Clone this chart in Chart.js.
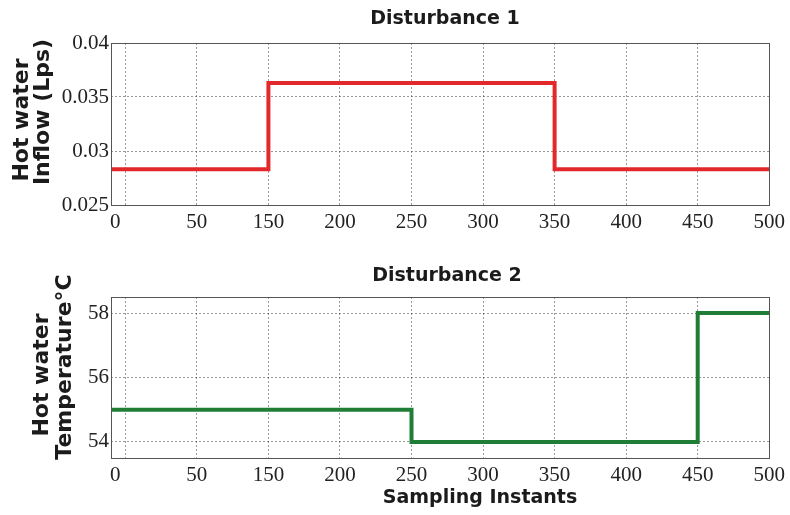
<!DOCTYPE html>
<html>
<head>
<meta charset="utf-8">
<script src="https://cdn.jsdelivr.net/npm/chart.js@4.4.1/dist/chart.umd.min.js"></script>
<style>
body { margin: 0; background: #fff; }
canvas { display: block; }
</style>
</head>
<body>
<canvas id="topChart" width="790" height="250"></canvas>
<canvas id="bottomChart" width="790" height="265"></canvas>
<script>
// sampling instant axis (labels as printed on the original figure)
const xMin = 40, xMax = 500;
const xTickValues = [43, 50, 100, 150, 200, 250, 300, 350, 400, 450, 500];
const xTickLabels = ['0', '', '50', '150', '200', '250', '300', '350', '400', '450', '500'];

// disturbance 1 - hot water inflow, step points
const d1Instants = [40, 150, 350, 500];
const d1Inflow = [0.0283, 0.0363, 0.0283, 0.0283];
const d1Ticks = [0.025, 0.03, 0.035, 0.04];

// disturbance 2 - hot water temperature, step points
const d2Instants = [40, 250, 450, 500];
const d2Temp = [55, 54, 58, 58];
const d2Ticks = [54, 56, 58];

const gridColor = 'rgba(70,70,70,0.55)';
const tickFont = { family: '"Liberation Serif", serif', size: 21 };
const labelFont = 'bold 22px "DejaVu Sans", sans-serif';
const titleFont = 'bold 19px "DejaVu Sans", sans-serif';

// frame around plot area + titles placed like the original figure
const frameText = {
    id: 'frameText',
    afterDraw(chart, args, opts) {
        const { ctx, chartArea: a } = chart;
        ctx.save();
        ctx.strokeStyle = '#555';
        ctx.lineWidth = 1;
        ctx.strokeRect(Math.round(a.left) + 0.5, Math.round(a.top) + 0.5,
            Math.round(a.right - a.left), Math.round(a.bottom - a.top));
        ctx.fillStyle = '#1b1b1b';
        ctx.textAlign = 'center';
        ctx.textBaseline = 'middle';
        (opts.items || []).forEach(t => {
            ctx.save();
            ctx.font = t.font;
            ctx.translate(t.x, t.y);
            ctx.rotate(t.rot || 0);
            ctx.fillText(t.text, 0, 0);
            ctx.restore();
        });
        ctx.restore();
    }
};

function xScale(height) {
    return {
        type: 'linear',
        min: xMin,
        max: xMax,
        afterBuildTicks: s => { s.ticks = xTickValues.map(v => ({ value: v })); },
        afterFit: s => { s.height = height; },
        ticks: {
            autoSkip: false,
            maxRotation: 0,
            padding: 5,
            color: '#222',
            font: tickFont,
            callback: (v, i) => xTickLabels[i]
        },
        // first tick only carries the "0" label, no grid line
        grid: { color: c => c.index === 0 ? 'rgba(0,0,0,0)' : gridColor, drawTicks: false },
        border: { display: false, dash: [2, 2] }
    };
}

function yScale(min, max, values) {
    return {
        min: min,
        max: max,
        afterBuildTicks: s => { s.ticks = values.map(v => ({ value: v })); },
        afterFit: s => { s.width = 111; },
        ticks: {
            padding: 2,
            color: '#222',
            font: tickFont,
            callback: v => String(+v.toFixed(4))
        },
        grid: { color: gridColor, drawTicks: false },
        border: { display: false, dash: [2, 2] }
    };
}

function toPoints(xs, ys) {
    return xs.map((x, i) => ({ x: x, y: ys[i] }));
}

new Chart(document.getElementById('topChart'), {
    type: 'line',
    data: {
        datasets: [{
            data: toPoints(d1Instants, d1Inflow),
            borderColor: '#e3282c',
            borderWidth: 4,
            pointRadius: 0,
            stepped: 'before',
            fill: false
        }]
    },
    options: {
        responsive: false,
        animation: false,
        layout: { padding: { left: 0, right: 18, top: 43, bottom: 0 } },
        scales: {
            x: xScale(45),
            y: yScale(0.025, 0.04, d1Ticks)
        },
        plugins: {
            legend: { display: false },
            tooltip: { enabled: false },
            frameText: {
                items: [
                    { text: 'Disturbance 1', x: 445, y: 19, rot: 0, font: titleFont },
                    { text: 'Hot water', x: 22, y: 120, rot: -Math.PI / 2, font: labelFont },
                    { text: 'Inflow (Lps)', x: 43, y: 112, rot: -Math.PI / 2, font: labelFont }
                ]
            }
        }
    },
    plugins: [frameText]
});

new Chart(document.getElementById('bottomChart'), {
    type: 'line',
    data: {
        datasets: [{
            data: toPoints(d2Instants, d2Temp),
            borderColor: '#1f7d36',
            borderWidth: 4,
            pointRadius: 0,
            stepped: 'before',
            fill: false
        }]
    },
    options: {
        responsive: false,
        animation: false,
        layout: { padding: { left: 0, right: 18, top: 47, bottom: 0 } },
        scales: {
            x: xScale(57),
            y: yScale(53.5, 58.5, d2Ticks)
        },
        plugins: {
            legend: { display: false },
            tooltip: { enabled: false },
            frameText: {
                items: [
                    { text: 'Disturbance 2', x: 447, y: 26, rot: 0, font: titleFont },
                    { text: 'Hot water', x: 42, y: 125, rot: -Math.PI / 2, font: labelFont },
                    { text: 'Temperature°C', x: 65, y: 117, rot: -Math.PI / 2, font: labelFont },
                    { text: 'Sampling Instants', x: 480, y: 248, rot: 0, font: 'bold 19px "DejaVu Sans", sans-serif' }
                ]
            }
        }
    },
    plugins: [frameText]
});
</script>
</body>
</html>
